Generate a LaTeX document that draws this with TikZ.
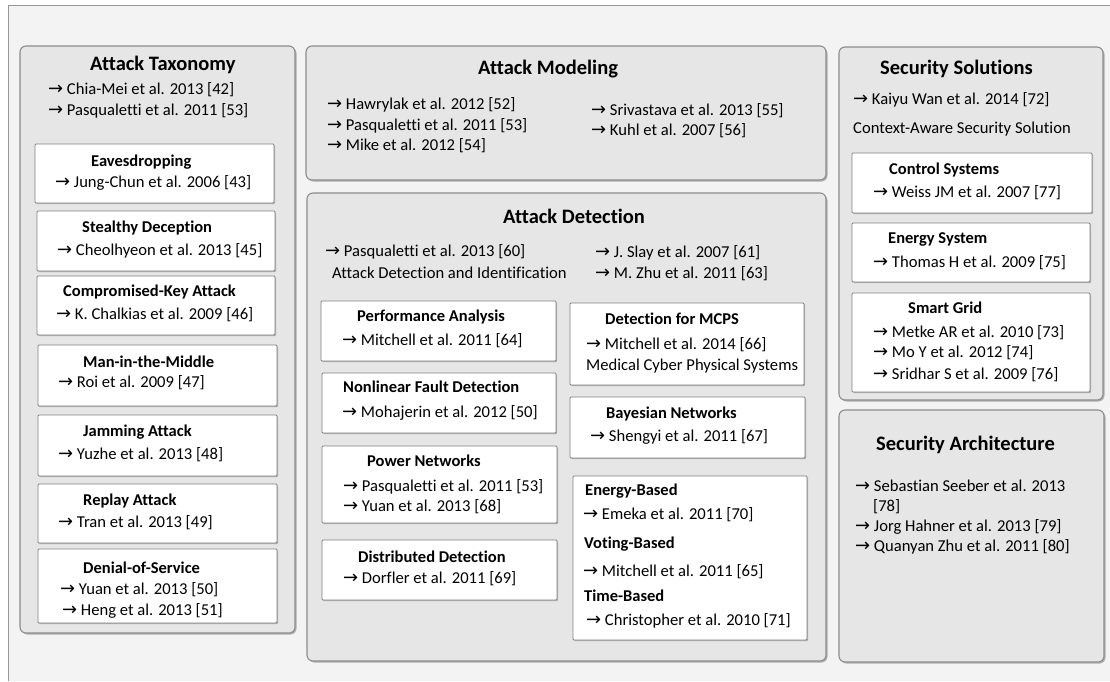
\documentclass[tikz,border=0pt]{standalone}
\usepackage{fontspec}
\setmainfont{Carlito}[Ligatures=NoCommon]
\newfontfamily\arfont{DejaVu Sans}[Scale=1.08]
\newcommand\ra{{\arfont →} }
\definecolor{bgc}{RGB}{243,243,243}
\definecolor{framec}{RGB}{150,150,150}
\definecolor{panelc}{RGB}{230,230,230}
\definecolor{panelb}{RGB}{140,140,140}
\definecolor{shadowc}{RGB}{175,175,175}
\definecolor{boxb}{RGB}{130,130,130}
\def\pnl(#1,#2)(#3,#4){\fill[pshadow] (#1+1.5,#2+1.5) rectangle (#3+1.5,#4+1.5); \draw[panel] (#1,#2) rectangle (#3,#4);}
\def\wbx(#1,#2)(#3,#4){\fill[bshadow] (#1+1,#2+1) rectangle (#3+1,#4+1); \draw[wbox] (#1,#2) rectangle (#3,#4);}
\begin{document}
\begin{tikzpicture}[x=1pt,y=-1pt,
 panel/.style={fill=panelc,draw=panelb,line width=1.1pt,rounded corners=6pt},
 pshadow/.style={fill=shadowc,rounded corners=6pt},
 bshadow/.style={fill=shadowc,rounded corners=1pt},
 wbox/.style={fill=white,draw=boxb,line width=0.9pt,rounded corners=1pt},
 ptitle/.style={font=\fontsize{20.5}{24}\selectfont\bfseries,inner sep=0pt,anchor=west},
 btitle/.style={font=\fontsize{16.5}{20}\selectfont\bfseries,inner sep=0pt,anchor=west},
 ref/.style={font=\fontsize{16.6}{20}\selectfont,inner sep=0pt,anchor=west}]
\useasboundingbox (0,0) rectangle (1110,681);
\fill[white] (0,0) rectangle (1110,681);
\fill[bgc] (8,5) rectangle (1110,681);
\draw[framec,line width=1pt] (1110,5) -- (8,5) -- (8,681);

% ---------------- panels
\pnl(20,46)(295,633)
\pnl(306,46)(826,180)
\pnl(307,193)(826,661)
\pnl(839,47)(1103,400)
\pnl(839,410)(1104,662)

% ---------------- Attack Taxonomy
\node[ptitle] (tax) at (90,65) {Attack Taxonomy};
\node[ref] (tax1) at (48,90) {\ra Chia-Mei et al. 2013 [42]};
\node[ref] (tax2) at (48,111) {\ra Pasqualetti et al. 2011 [53]};

\wbx(35,144)(274,203)
\node[btitle] (eav) at (91,162) {Eavesdropping};
\node[ref] (eav1) at (55,183) {\ra Jung-Chun et al. 2006 [43]};

\wbx(37,211)(275,271)
\node[btitle] (ste) at (82,228) {Stealthy Deception};
\node[ref] (ste1) at (57,251) {\ra Cheolhyeon et al. 2013 [45]};

\wbx(37,276)(275,335)
\node[btitle] (cka) at (63,292) {Compromised-Key Attack};
\node[ref] (cka1) at (56,315) {\ra K. Chalkias et al. 2009 [46]};

\wbx(38,345)(277,406)
\node[btitle] (mitm) at (83,362) {Man-in-the-Middle};
\node[ref] (mitm1) at (58,383) {\ra Roi et al. 2009 [47]};

\wbx(38,415)(277,476)
\node[btitle] (jam) at (83,432) {Jamming Attack};
\node[ref] (jam1) at (58,455) {\ra Yuzhe et al. 2013 [48]};

\wbx(38,484)(277,543)
\node[btitle] (rep) at (83,501) {Replay Attack};
\node[ref] (rep1) at (58,523) {\ra Tran et al. 2013 [49]};

\wbx(38,549)(277,623)
\node[btitle] (dos) at (83,568) {Denial-of-Service};
\node[ref] (dos1) at (60,590) {\ra Yuan et al. 2013 [50]};
\node[ref] (dos2) at (62,611) {\ra Heng et al. 2013 [51]};

% ---------------- Attack Modeling
\node[ptitle] (mod) at (478,69) {Attack Modeling};
\node[ref] (mod1) at (327,105) {\ra Hawrylak et al. 2012 [52]};
\node[ref] (mod2) at (327,126) {\ra Pasqualetti et al. 2011 [53]};
\node[ref] (mod3) at (327,146) {\ra Mike et al. 2012 [54]};
\node[ref] (mod4) at (591,111) {\ra Srivastava et al. 2013 [55]};
\node[ref] (mod5) at (591,131) {\ra Kuhl et al. 2007 [56]};

% ---------------- Attack Detection
\node[ptitle] (det) at (503,216) {Attack Detection};
\node[ref] (det1) at (325,252) {\ra Pasqualetti et al. 2013 [60]};
\node[ref] (det2) at (332,273) {Attack Detection and Identification};
\node[ref] (det3) at (595,253) {\ra J. Slay et al. 2007 [61]};
\node[ref] (det4) at (595,274) {\ra M. Zhu et al. 2011 [63]};

\wbx(321,301)(556,361)
\node[btitle] (perf) at (357,317) {Performance Analysis};
\node[ref] (perf1) at (342,341) {\ra Mitchell et al. 2011 [64]};

\wbx(322,373)(556,433)
\node[btitle] (nlf) at (343,387) {Nonlinear Fault Detection};
\node[ref] (nlf1) at (342,413) {\ra Mohajerin et al. 2012 [50]};

\wbx(322,446)(557,523)
\node[btitle] (pow) at (367,461) {Power Networks};
\node[ref] (pow1) at (343,487) {\ra Pasqualetti et al. 2011 [53]};
\node[ref] (pow2) at (343,507) {\ra Yuan et al. 2013 [68]};

\wbx(322,540)(557,600)
\node[btitle] (dis) at (358,557) {Distributed Detection};
\node[ref] (dis1) at (343,579) {\ra Dorfler et al. 2011 [69]};

\wbx(570,303)(804,385)
\node[btitle] (mcps) at (605,319) {Detection for MCPS};
\node[ref] (mcps1) at (586,345) {\ra Mitchell et al. 2014 [66]};
\node[ref] (mcps2) at (586,366) {Medical Cyber Physical Systems};

\wbx(570,397)(805,458)
\node[btitle] (bay) at (606,414) {Bayesian Networks};
\node[ref] (bay1) at (590,437) {\ra Shengyi et al. 2011 [67]};

\wbx(573,476)(807,640)
\node[btitle] (enb) at (585,491) {Energy-Based};
\node[ref] (enb1) at (583,515) {\ra Emeka et al. 2011 [70]};
\node[btitle] (vob) at (584,544) {Voting-Based};
\node[ref] (vob1) at (583,572) {\ra Mitchell et al. 2011 [65]};
\node[btitle] (tib) at (584,596) {Time-Based};
\node[ref] (tib1) at (586,621) {\ra Christopher et al. 2010 [71]};

% ---------------- Security Solutions
\node[ptitle] (sol) at (880,69) {Security Solutions};
\node[ref] (sol1) at (853,100) {\ra Kaiyu Wan et al. 2014 [72]};
\node[ref] (sol2) at (853,129) {Context-Aware Security Solution};

\wbx(852,153)(1092,213)
\node[btitle] (ctl) at (889,170) {Control Systems};
\node[ref] (ctl1) at (873,193) {\ra Weiss JM et al. 2007 [77]};

\wbx(852,223)(1090,282)
\node[btitle] (ens) at (888,239) {Energy System};
\node[ref] (ens1) at (873,263) {\ra Thomas H et al. 2009 [75]};

\wbx(852,293)(1090,392)
\node[btitle] (sg) at (908,308) {Smart Grid};
\node[ref] (sg1) at (873,333) {\ra Metke AR et al. 2010 [73]};
\node[ref] (sg2) at (873,353) {\ra Mo Y et al. 2012 [74]};
\node[ref] (sg3) at (873,375) {\ra Sridhar S et al. 2009 [76]};

% ---------------- Security Architecture
\node[ptitle] (arc) at (876,445) {Security Architecture};
\node[ref] (arc1) at (855,486) {\ra Sebastian Seeber et al. 2013};
\node[ref] (arc1b) at (873,507) {[78]};
\node[ref] (arc2) at (855,527) {\ra Jorg Hahner et al. 2013 [79]};
\node[ref] (arc3) at (855,547) {\ra Quanyan Zhu et al. 2011 [80]};
\end{tikzpicture}
\end{document}
